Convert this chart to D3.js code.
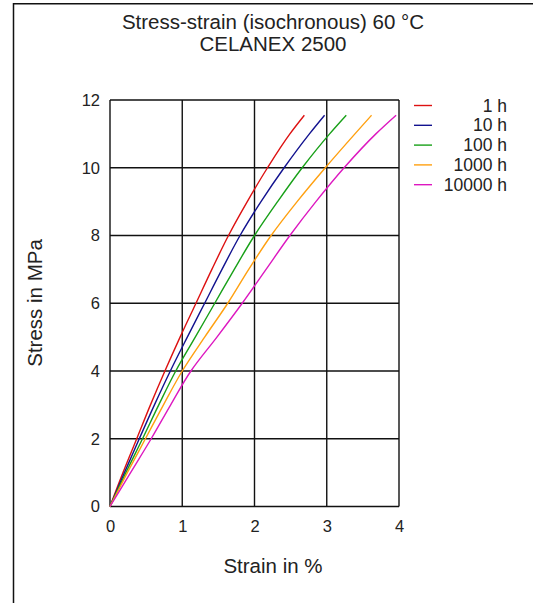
<!DOCTYPE html>
<html><head><meta charset="utf-8">
<script src="https://cdn.jsdelivr.net/npm/d3@7"></script>
<style>
html,body{margin:0;padding:0;background:#fff;}
svg{display:block;font-family:"Liberation Sans",Arial,sans-serif;}
</style></head>
<body>
<svg id="c" width="533" height="603"></svg>
<script>
// Data
const stress = [0, 1, 2, 3, 4, 5, 6, 7, 8, 9, 10, 11, 11.55];
const strain1h     = [0, 0.18, 0.37, 0.56, 0.76, 0.97, 1.19, 1.41, 1.64, 1.90, 2.18, 2.49, 2.69];
const strain10h    = [0, 0.20, 0.405, 0.615, 0.835, 1.07, 1.31, 1.55, 1.80, 2.09, 2.41, 2.76, 2.97];
const strain100h   = [0, 0.22, 0.45, 0.675, 0.91, 1.18, 1.45, 1.72, 2.00, 2.32, 2.66, 3.04, 3.27];
const strain1000h  = [0, 0.24, 0.49, 0.74, 1.00, 1.31, 1.63, 1.92, 2.23, 2.59, 2.98, 3.39, 3.62];
const strain10000h = [0, 0.285, 0.57, 0.84, 1.12, 1.48, 1.83, 2.16, 2.49, 2.85, 3.24, 3.68, 3.96];
const seriesNames = ["1 h", "10 h", "100 h", "1000 h", "10000 h"];
const seriesColors = ["#dd1111", "#12128f", "#18a018", "#ffa010", "#dd18c0"];
const seriesStrains = [strain1h, strain10h, strain100h, strain1000h, strain10000h];
const xTicks = [0, 1, 2, 3, 4];
const yTicks = [0, 2, 4, 6, 8, 10, 12];
const titleLines = ["Stress-strain (isochronous) 60 °C", "CELANEX 2500"];

const svg = d3.select("#c");
// frame
svg.append("line").attr("x1", 13.5).attr("x2", 13.5).attr("y1", 3).attr("y2", 603)
  .attr("stroke", "#111").attr("stroke-width", 1.5);
svg.append("line").attr("x1", 13).attr("x2", 533).attr("y1", 3.8).attr("y2", 3.8)
  .attr("stroke", "#111").attr("stroke-width", 1.5);

const x = d3.scaleLinear().domain([0, 4]).range([110, 399]);
const y = d3.scaleLinear().domain([0, 12]).range([506.5, 100]);

// grid
const g = svg.append("g");
g.selectAll("line.v").data(xTicks).join("line")
  .attr("x1", d => x(d)).attr("x2", d => x(d)).attr("y1", y(0)).attr("y2", y(12))
  .attr("stroke", "#111").attr("stroke-width", 1.4);
g.selectAll("line.h").data(yTicks).join("line")
  .attr("x1", x(0)).attr("x2", x(4)).attr("y1", d => y(d)).attr("y2", d => y(d))
  .attr("stroke", "#111").attr("stroke-width", 1.4);

// axes labels via d3 axes (no domain/ticks lines)
const xa = svg.append("g").attr("transform", `translate(0,${y(0)})`)
  .call(d3.axisBottom(x).tickValues(xTicks).tickSize(0).tickPadding(14).tickFormat(d3.format("d")));
const ya = svg.append("g").attr("transform", `translate(${x(0)},0)`)
  .call(d3.axisLeft(y).tickValues(yTicks).tickSize(0).tickPadding(10).tickFormat(d3.format("d")));
[xa, ya].forEach(a => {
  a.select(".domain").remove();
  a.selectAll("text").attr("font-size", 16.5).attr("fill", "#222").attr("font-family", "Liberation Sans, Arial, sans-serif");
});

// curves
const line = d3.line().x(d => x(d[0])).y(d => y(d[1])).curve(d3.curveMonotoneY);
seriesStrains.forEach((s, i) => {
  svg.append("path").datum(s.map((v, k) => [v, stress[k]]))
    .attr("d", line).attr("fill", "none").attr("stroke", seriesColors[i]).attr("stroke-width", 1.4);
});

// legend
const lg = svg.append("g");
seriesNames.forEach((n, i) => {
  const yy = 105.5 + i * 19.8;
  lg.append("line").attr("x1", 414).attr("x2", 432).attr("y1", yy).attr("y2", yy)
    .attr("stroke", seriesColors[i]).attr("stroke-width", 1.4);
  lg.append("text").attr("x", 507).attr("y", yy + 6).attr("text-anchor", "end")
    .attr("font-size", 17.5).attr("fill", "#222").text(n);
});

// titles
titleLines.forEach((t, i) => {
  svg.append("text").attr("x", 273).attr("y", 28.5 + i * 22).attr("text-anchor", "middle")
    .attr("font-size", 20.5).attr("fill", "#222").text(t);
});
svg.append("text").attr("x", 273).attr("y", 573).attr("text-anchor", "middle")
  .attr("font-size", 20.5).attr("fill", "#222").text("Strain in %");
svg.append("text").attr("transform", "translate(41.5,303) rotate(-90)").attr("text-anchor", "middle")
  .attr("font-size", 20.5).attr("fill", "#222").text("Stress in MPa");
</script>
</body></html>
